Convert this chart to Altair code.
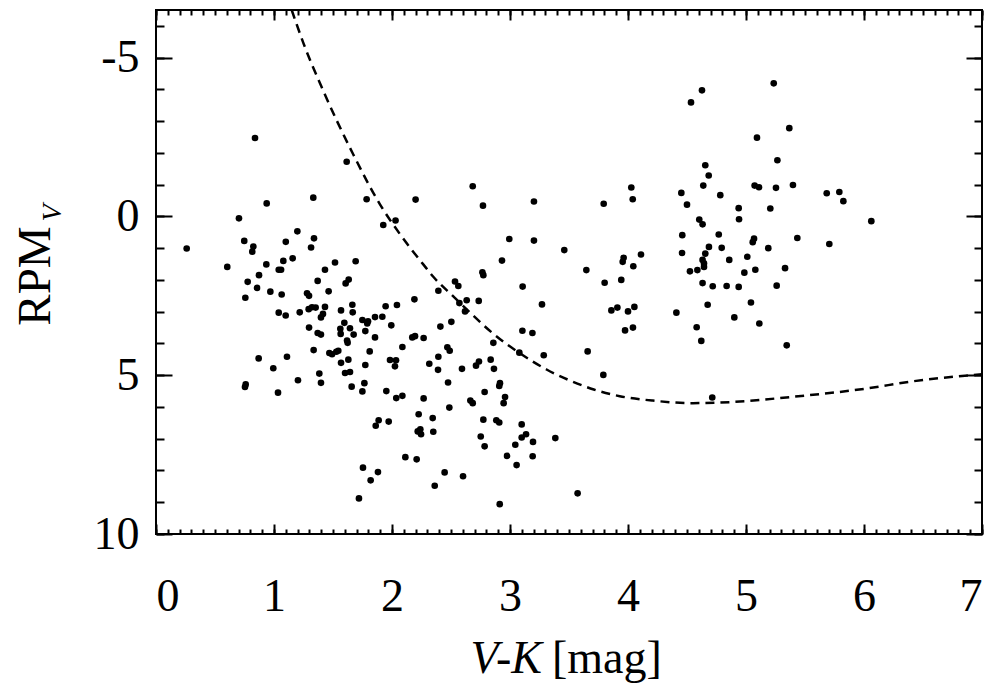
import altair as alt
import pandas as pd

# ---- data ----
vk = [0.839, 1.616, 0.938, 1.333, 1.785, 2.20, 0.703, 1.926, 2.03, 1.198, 0.748, 0.825, 0.816, 1.10,
      1.339, 1.314, 0.26, 0.604, 0.935, 1.079, 1.158, 1.04, 1.06, 1.432, 1.517, 1.692, 0.873,
      0.777, 0.856, 0.757, 0.969, 1.065, 1.370, 1.463, 1.607, 1.633, 1.28, 1.297, 1.04, 1.099, 1.218,
      1.294, 1.322, 1.353, 1.432, 1.415, 1.398, 1.568, 1.664, 1.667, 1.596, 1.562, 1.565, 1.644, 1.675,
      1.619, 1.624, 1.297, 1.37, 1.398, 1.749, 1.797, 1.79, 1.856, 1.918, 1.946, 2.042, 2.19, 1.774,
      1.994, 1.856, 2.172, 2.195, 2.268, 2.088, 1.336, 1.469, 1.492, 1.528, 1.545, 1.811, 1.63, 1.568,
      1.774, 1.983, 2.034, 2.025, 2.316, 0.870, 1.11, 0.994, 1.384, 1.398, 1.602, 1.644, 1.203, 0.754,
      0.760, 1.034, 1.658, 1.766, 1.749, 1.952, 2.036, 2.088, 2.268, 2.226, 1.887, 1.862, 1.972, 2.218,
      2.24, 2.246, 2.113, 2.209, 1.754, 1.881, 1.819, 1.72,
      2.766, 2.774, 2.534, 2.562, 2.393, 2.571, 2.633, 2.735, 2.619, 3.107, 3.271, 3.105, 3.19, 3.647,
      3.802, 3.943, 3.955, 4.045, 3.859, 3.91, 4.0, 4.054, 3.975, 4.042, 4.41, 4.525, 4.588, 4.582,
      3.658, 3.791, 2.41, 2.503, 2.859, 3.079, 3.286, 2.469, 2.489, 2.393, 2.39, 2.593, 2.712, 2.737,
      2.836, 2.864, 2.475, 2.785, 2.915, 2.909, 2.958, 2.946, 2.664, 2.684, 2.486, 2.345, 2.35, 2.774,
      2.884, 2.909, 2.752, 2.785, 3.099, 3.136, 3.099, 3.045, 3.195, 3.384, 2.975, 3.192, 3.056, 2.446,
      2.602, 2.362, 2.913, 3.573,
      4.534, 4.627, 2.684, 2.771, 3.203, 3.794, 4.028, 4.04, 4.452, 4.5, 4.604, 2.994, 3.203, 3.46,
      2.932, 3.963, 4.11, 4.46, 4.458,
      5.235, 5.367, 5.093, 5.266, 4.655, 4.684, 4.638, 4.782, 5.073, 5.11, 5.254, 5.398, 5.684, 5.791,
      5.825, 6.062, 4.938, 4.941, 5.206, 4.632, 4.769, 4.794, 4.686, 4.655, 4.632, 4.644, 4.644, 4.858,
      5.011, 5.057, 5.068, 5.189, 5.435, 5.706, 4.986, 5.079, 5.331,
      4.632, 4.718, 4.836, 4.938, 5.26, 4.675, 5.042, 4.901, 5.113, 4.621, 5.345, 4.714]

rpm = [-2.47, -1.72, -0.41, -0.59, -0.54, -0.53, 0.06, 0.27, 0.13, 0.47, 0.77, 0.95, 1.11, 0.80,
       0.69, 0.98, 1.01, 1.59, 1.51, 1.40, 1.32, 1.68, 1.68, 1.68, 1.45, 1.41, 1.85,
       2.06, 2.25, 2.56, 2.37, 2.46, 2.03, 2.36, 2.11, 1.99, 2.42, 2.50, 3.03, 3.12, 3.02,
       2.92, 2.86, 2.87, 2.85, 3.07, 3.18, 2.96, 2.78, 3.02, 3.35, 3.54, 3.70, 3.52, 3.72,
       3.91, 3.98, 3.50, 3.67, 3.72, 3.26, 3.30, 3.37, 3.17, 3.16, 2.83, 2.79, 2.61, 3.61,
       3.43, 3.81, 3.81, 3.77, 3.83, 4.11, 4.21, 4.30, 4.34, 4.26, 4.23, 4.25, 4.51, 4.61,
       4.68, 4.52, 4.53, 4.72, 4.64, 4.47, 4.42, 4.78, 4.95, 5.24, 4.93, 4.90, 5.16, 5.37,
       5.29, 5.55, 5.36, 5.25, 5.51, 5.50, 5.72, 5.65, 5.73, 6.23, 6.42, 6.59, 6.46, 6.77,
       6.70, 6.86, 7.58, 7.65, 7.91, 8.05, 8.31, 8.88,
       1.76, 1.85, 2.05, 2.19, 2.34, 2.73, 2.64, 2.66, 2.99, 2.21, 2.77, 3.60, 3.67, 1.69,
       2.09, 2.00, 1.43, 1.57, 2.96, 2.87, 2.99, 2.85, 3.59, 3.50, 3.03, 1.73, 1.69, 3.49,
       4.25, 4.99, 3.47, 3.32, 3.98, 4.29, 4.37, 4.12, 4.23, 4.42, 4.83, 4.80, 4.70, 4.57,
       4.51, 4.80, 5.23, 5.53, 5.25, 5.34, 5.69, 5.88, 5.80, 5.88, 6.02, 6.35, 6.78, 6.40,
       6.42, 6.49, 6.93, 7.24, 6.55, 6.86, 6.96, 7.19, 7.10, 6.98, 7.54, 7.55, 7.83, 8.06,
       8.18, 8.48, 9.06, 8.72,
       -3.59, -3.97, -0.95, -0.34, -0.47, -0.40, -0.91, -0.54, -0.74, -0.37, 0.10, 0.71, 0.76, 1.06,
       1.39, 1.30, 1.20, 0.59, 1.15,
       -4.19, -2.78, -2.48, -1.77, -1.61, -1.29, -0.97, -0.67, -0.97, -0.92, -0.90, -0.99, -0.73, -0.77,
       -0.48, 0.15, -0.26, 0.09, -0.25, 0.25, 0.57, 0.99, 0.96, 1.17, 1.37, 1.48, 1.59, 1.37,
       1.27, 0.81, 0.70, 1.0, 0.68, 0.87, 1.77, 1.68, 1.63,
       2.10, 2.20, 2.19, 2.22, 2.18, 2.78, 2.71, 3.18, 3.37, 3.92, 4.06, 5.70]

curve_x = [1.15, 1.25, 1.418, 1.672, 1.898, 2.068, 2.265, 2.35, 2.52, 2.66, 2.86, 3.08, 3.31, 3.51,
           3.71, 3.93, 4.21, 4.55, 4.9, 5.37, 5.94, 6.50, 7.0]
curve_y = [-6.5, -5.45, -3.95, -1.95, -0.38, 0.56, 1.51, 1.90, 2.52, 3.02, 3.70, 4.30, 4.82, 5.17,
           5.45, 5.66, 5.80, 5.88, 5.84, 5.69, 5.46, 5.15, 4.97]

x_major = [0, 1, 2, 3, 4, 5, 6, 7]
x_minor = [round(i * 0.1, 1) for i in range(0, 71)]
y_major = [-5, 0, 5, 10]
y_minor = list(range(-6, 11))

FONT = "Liberation Serif"
W, H = 826, 524

pts = pd.DataFrame({"vk": vk, "rpm": rpm})
crv = pd.DataFrame({"vk": curve_x, "rpm": curve_y})

xs = alt.Scale(domain=[0, 7], nice=False, zero=False)
ys = alt.Scale(domain=[-6.5, 10], nice=False, zero=False, reverse=True)

def tick_axis(orient, values, size, offset):
    return alt.Axis(orient=orient, values=values, tickSize=size, offset=offset, labels=False,
                    domain=False, grid=False, title=None, ticks=True, tickColor="black", tickWidth=2)

points = alt.Chart(pts).mark_circle(size=44, color="black", opacity=1).encode(
    x=alt.X("vk:Q", scale=xs, axis=alt.Axis(orient="bottom", values=x_major, ticks=False, domain=False,
                                             grid=False, title=None, labelFont=FONT, labelFontSize=46,
                                             labelColor="black", labelPadding=40,
                                             labelExpr="'' + datum.value")),
    y=alt.Y("rpm:Q", scale=ys, axis=alt.Axis(orient="left", values=y_major, ticks=False, domain=False,
                                              grid=False, title=None, labelFont=FONT, labelFontSize=46,
                                              labelColor="black", labelPadding=17,
                                              labelExpr="'' + datum.value")),
)

line = alt.Chart(crv).mark_line(color="black", strokeWidth=2.5, strokeDash=[9, 6],
                                interpolate="monotone").encode(
    x=alt.X("vk:Q", scale=xs, axis=None),
    y=alt.Y("rpm:Q", scale=ys, axis=None),
)

def ticks_layer(xo, xv, xsz, yo, yv, ysz):
    return alt.Chart(pts).mark_point(opacity=0).encode(
        x=alt.X("vk:Q", scale=xs, axis=tick_axis(xo, xv, xsz, -xsz)),
        y=alt.Y("rpm:Q", scale=ys, axis=tick_axis(yo, yv, ysz, -ysz)),
    )

t1 = ticks_layer("bottom", x_major, 10, "left", y_major, 16)
t2 = ticks_layer("top", x_major, 10, "right", y_major, 16)
t3 = ticks_layer("bottom", x_minor, 5, "left", y_minor, 8)
t4 = ticks_layer("top", x_minor, 5, "right", y_minor, 8)

ytitle = alt.Chart(pd.DataFrame({"t": ["RPM"]})).mark_text(
    font=FONT, fontSize=47, angle=270, align="center", baseline="alphabetic", color="black"
).encode(text="t:N", x=alt.value(-106), y=alt.value(266))

ysub = alt.Chart(pd.DataFrame({"t": ["V"]})).mark_text(
    font=FONT, fontSize=28, fontStyle="italic", angle=270, align="center", baseline="alphabetic",
    color="black"
).encode(text="t:N", x=alt.value(-95), y=alt.value(203))

xt1 = alt.Chart(pd.DataFrame({"t": ["V-K"]})).mark_text(
    font=FONT, fontSize=46, fontStyle="italic", align="right", baseline="alphabetic", color="black"
).encode(text="t:N", x=alt.value(386), y=alt.value(663))

xt2 = alt.Chart(pd.DataFrame({"t": ["[mag]"]})).mark_text(
    font=FONT, fontSize=46, align="left", baseline="alphabetic", color="black"
).encode(text="t:N", x=alt.value(396), y=alt.value(663))

chart = alt.layer(t1, t2, t3, t4, line, points, ytitle, ysub, xt1, xt2).resolve_axis(
    x="independent", y="independent"
).properties(
    width=W, height=H,
    autosize=alt.AutoSizeParams(type="none"),
    padding={"left": 148, "top": 2, "right": 12, "bottom": 150},
).configure_view(stroke="black", strokeWidth=2).configure_axis(grid=False)

chart.save("out.html", embed_options={"renderer": "svg", "actions": False})
